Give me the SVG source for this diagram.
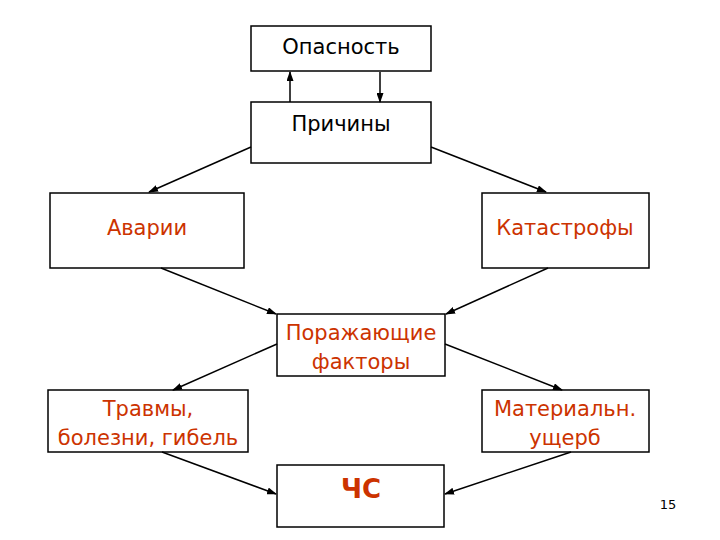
<svg xmlns="http://www.w3.org/2000/svg" width="720" height="540" viewBox="0 0 720 540">
<defs>
<marker id="ah" markerWidth="10" markerHeight="7" refX="9" refY="3.5" orient="auto" markerUnits="userSpaceOnUse">
<path d="M0,0 L10,3.5 L0,7 z" fill="#000"/>
</marker>
<style>
.box{fill:#fff;stroke:#000;stroke-width:1.5}
.t{font-family:"DejaVu Sans","Verdana",sans-serif;font-size:21px;text-anchor:middle}
.k{fill:#000}
.r{fill:#CC3300}
.c line{stroke:#000;stroke-width:1.5;marker-end:url(#ah)}
</style>
</defs>
<rect width="720" height="540" fill="#fff"/>
<g id="opasnost"><rect class="box" x="251" y="26" width="180" height="45"/><text class="t k" x="341" y="54">Опасность</text></g>
<g id="prichiny"><rect class="box" x="251" y="102" width="180" height="61"/><text class="t k" x="341" y="131">Причины</text></g>
<g id="avarii"><rect class="box" x="50" y="193" width="194" height="75"/><text class="t r" x="147" y="235">Аварии</text></g>
<g id="katastrofy"><rect class="box" x="482" y="193" width="167" height="75"/><text class="t r" x="565" y="235">Катастрофы</text></g>
<g id="porazh"><rect class="box" x="277" y="314" width="168" height="62"/><text class="t r" x="361" y="340">Поражающие</text><text class="t r" x="361" y="369">факторы</text></g>
<g id="travmy"><rect class="box" x="48" y="390" width="200" height="62"/><text class="t r" x="148" y="416">Травмы,</text><text class="t r" x="148" y="445">болезни, гибель</text></g>
<g id="uscherb"><rect class="box" x="482" y="390" width="167" height="62"/><text class="t r" x="565" y="416">Материальн.</text><text class="t r" x="565" y="445">ущерб</text></g>
<g id="chs"><rect class="box" x="277" y="465" width="167" height="62"/><text class="t r" x="361" y="498" style="font-size:26px;font-weight:bold">ЧС</text></g>
<g class="c">
<line x1="290" y1="102" x2="290" y2="72"/>
<line x1="380" y1="72" x2="380" y2="102"/>
<line x1="251" y1="147" x2="149" y2="192"/>
<line x1="431" y1="147" x2="546" y2="192"/>
<line x1="161" y1="268" x2="276" y2="314"/>
<line x1="548" y1="268" x2="446" y2="314"/>
<line x1="277" y1="344" x2="173" y2="390"/>
<line x1="445" y1="344" x2="562" y2="390"/>
<line x1="162" y1="452" x2="276" y2="494"/>
<line x1="571" y1="452" x2="445" y2="494"/>
</g>
<text x="668" y="509" style="font-family:'DejaVu Sans',sans-serif;font-size:13px;text-anchor:middle" fill="#000">15</text>
</svg>
